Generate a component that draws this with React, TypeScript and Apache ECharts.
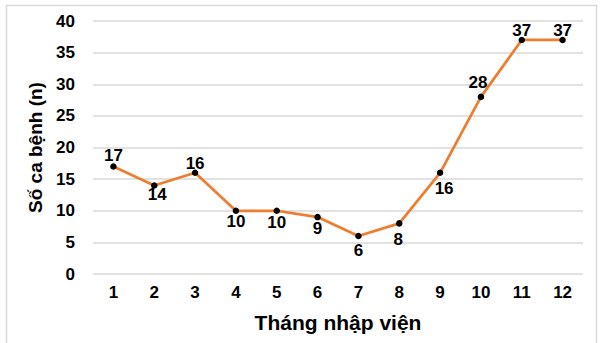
import React, { useEffect, useRef } from "react";
import * as echarts from "echarts";

const months = ["1", "2", "3", "4", "5", "6", "7", "8", "9", "10", "11", "12"];
const cases = [17, 14, 16, 10, 10, 9, 6, 8, 16, 28, 37, 37];
// label offsets (dx, dy) from each point, as placed in the reference
const labelOffsets: number[][] = [
  [0, -11], [3, 9], [0, -9], [0, 11], [0, 12], [0, 11],
  [0, 14], [-1, 16], [4, 16], [-3, -14], [0, -9], [0, -9],
];
const yTitle = "Số ca bệnh (n)";
const xTitle = "Tháng nhập viện";

const FONT = "'Liberation Sans', Arial, sans-serif";

export default function App() {
  const ref = useRef<HTMLDivElement>(null);
  useEffect(() => {
    if (!ref.current) return;
    const chart = echarts.init(ref.current, null, { renderer: "svg" });
    chart.setOption({
      animation: false,
      backgroundColor: "#ffffff",
      graphic: [
        {
          type: "rect",
          shape: { x: 6.5, y: 5.5, width: 590, height: 345 },
          style: { fill: "none", stroke: "#d9d9d9", lineWidth: 1.5 },
          silent: true,
        },
      ],
      grid: { left: 93, right: 17, top: 21, bottom: 69 },
      xAxis: {
        type: "category",
        data: months,
        boundaryGap: true,
        axisLine: { show: false },
        axisTick: { show: false },
        axisLabel: { color: "#000", fontWeight: "bold", fontSize: 17, fontFamily: FONT, margin: 10 },
        name: xTitle,
        nameLocation: "middle",
        nameGap: 38,
        nameTextStyle: { color: "#000", fontWeight: "bold", fontSize: 21, fontFamily: FONT },
      },
      yAxis: {
        type: "value",
        min: 0,
        max: 40,
        interval: 5,
        axisLine: { show: false },
        axisTick: { show: false },
        axisLabel: { color: "#000", fontWeight: "bold", fontSize: 17, fontFamily: FONT, margin: 18 },
        splitLine: { lineStyle: { color: "#d9d9d9", width: 1.5 } },
        name: yTitle,
        nameLocation: "middle",
        nameRotate: 90,
        nameGap: 37,
        nameTextStyle: { color: "#000", fontWeight: "bold", fontSize: 19, fontFamily: FONT },
      },
      series: [
        {
          type: "line",
          data: cases.map((v, i) => ({
            value: v,
            label: { offset: labelOffsets[i] },
          })),
          lineStyle: { color: "#ED7D31", width: 2.75 },
          symbol: "circle",
          symbolSize: 6.5,
          itemStyle: { color: "#000" },
          label: {
            show: true,
            position: "inside",
            color: "#000",
            fontWeight: "bold",
            fontSize: 17,
            fontFamily: FONT,
          },
        },
      ],
    });
    return () => chart.dispose();
  }, []);
  return (
    <div
      ref={ref}
      style={{ position: "fixed", left: 0, top: 0, width: 600, height: 343 }}
    />
  );
}
